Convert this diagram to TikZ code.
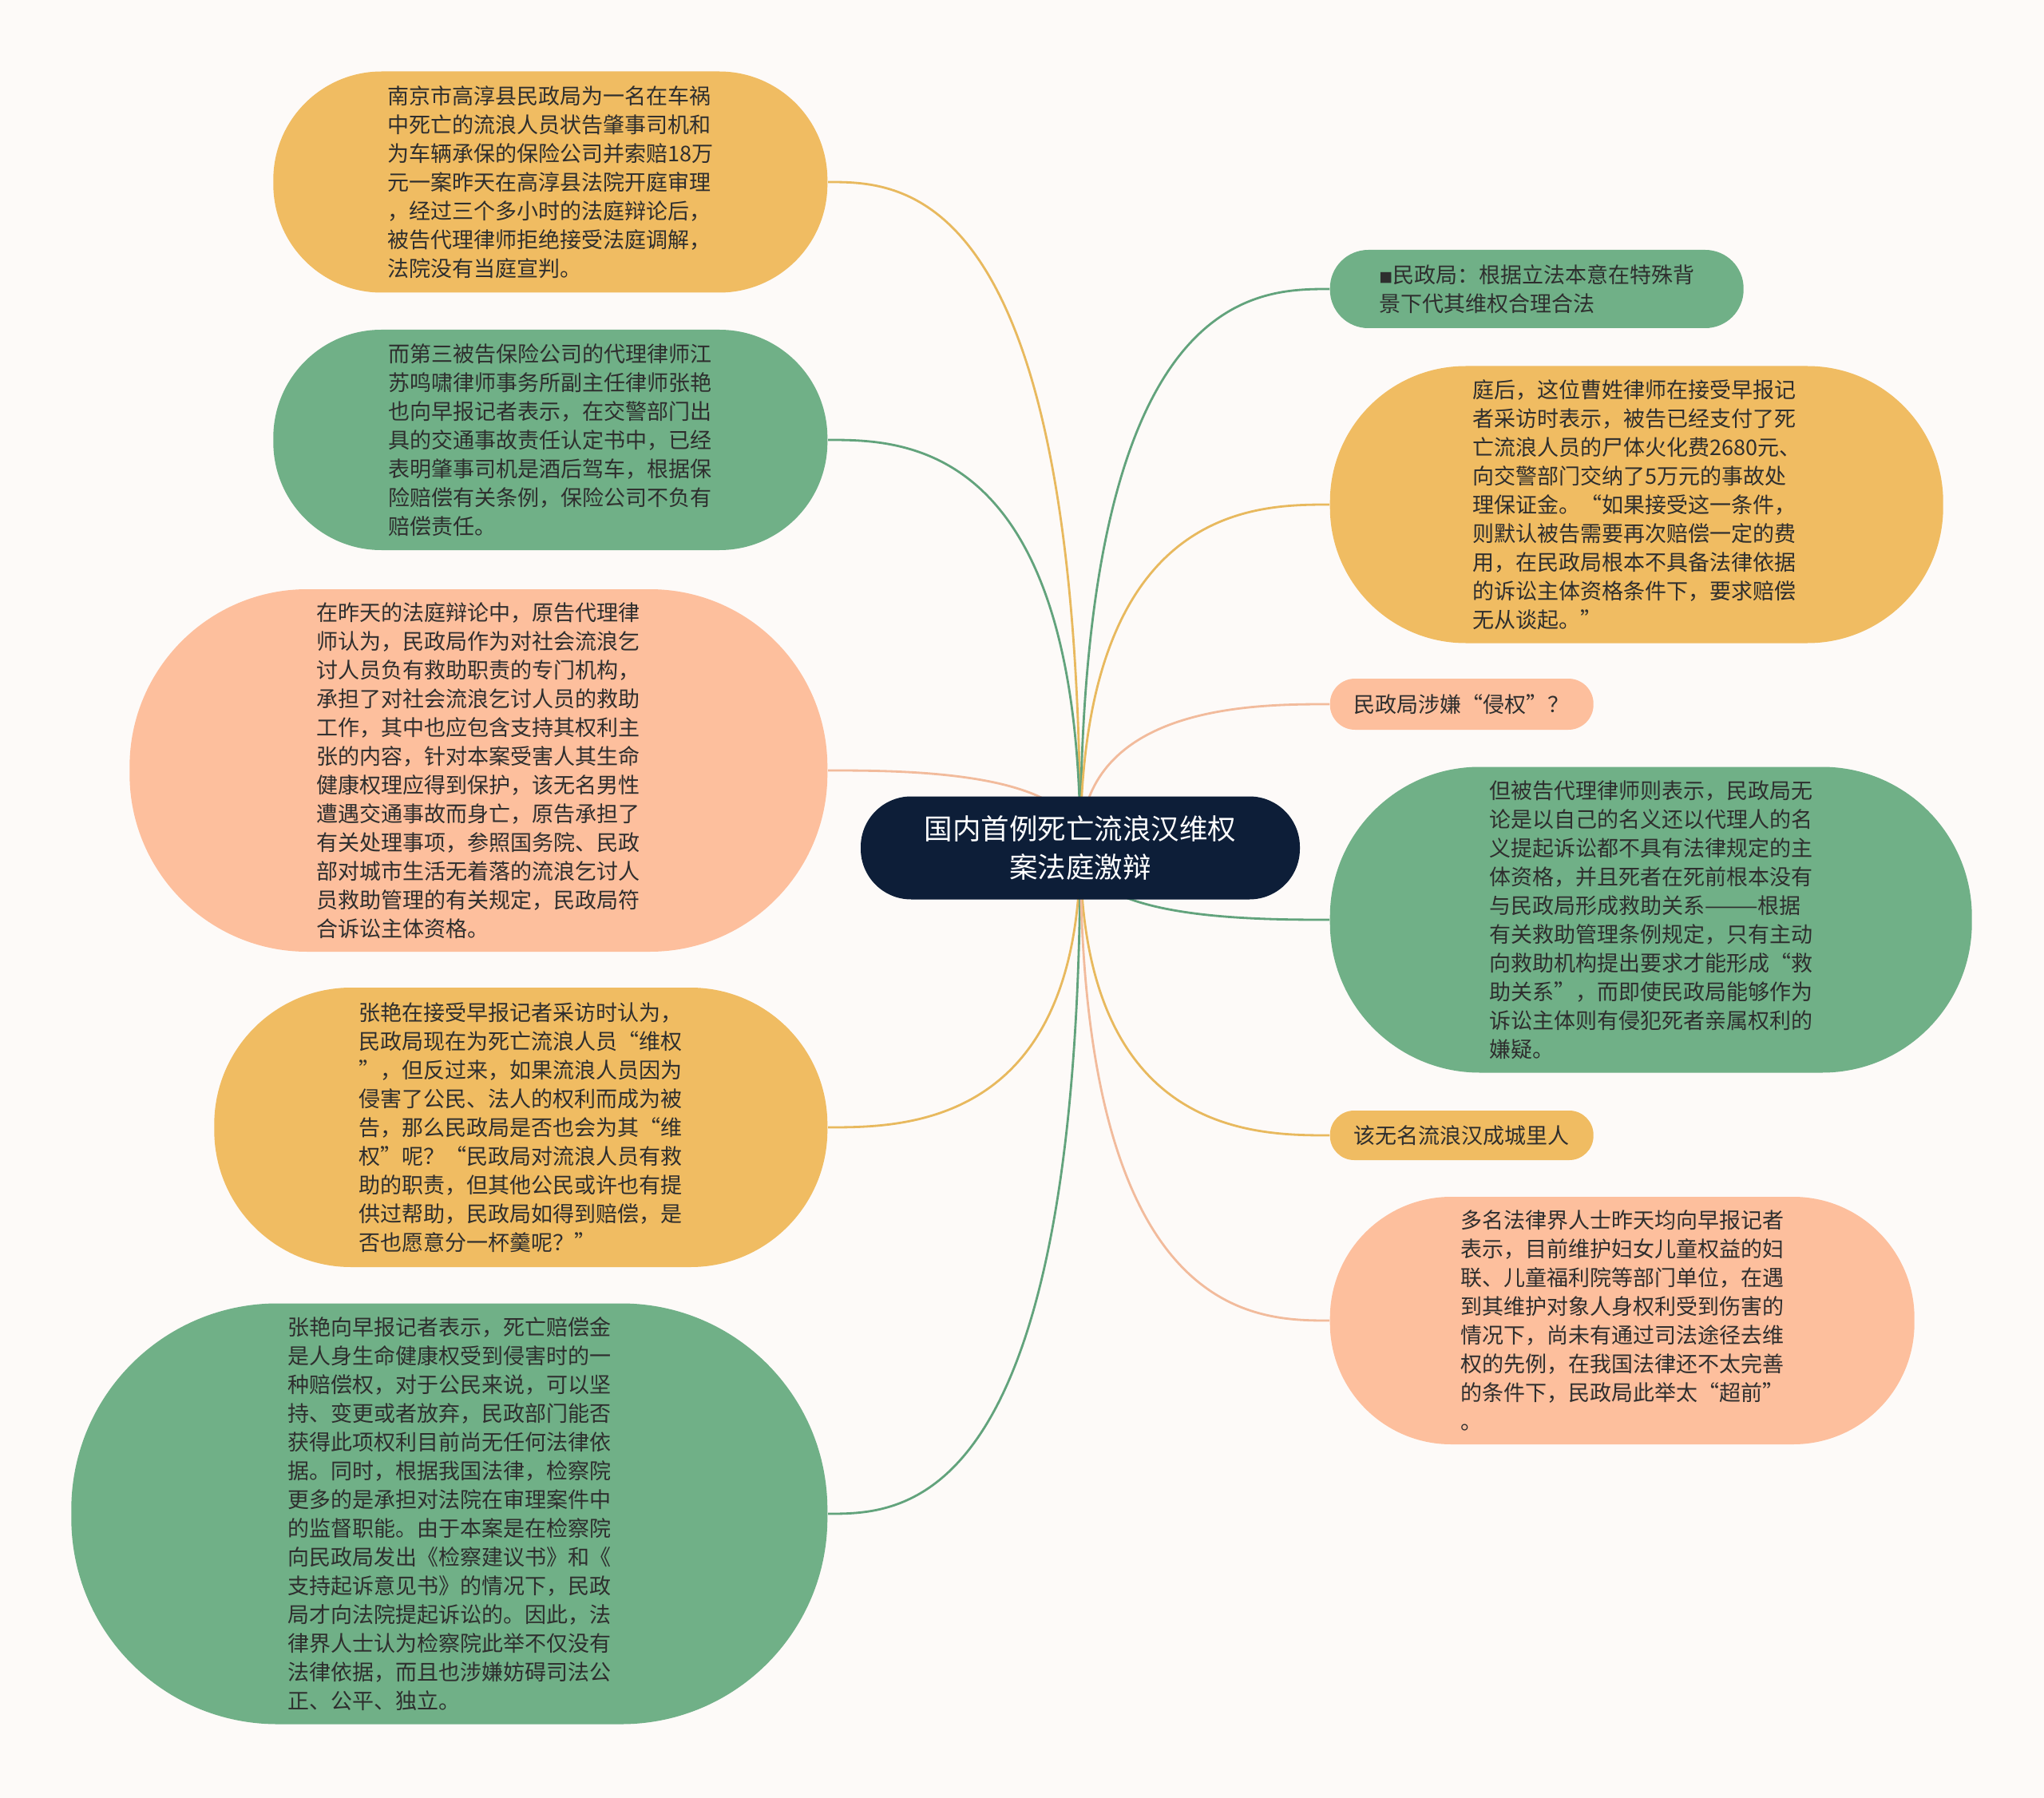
\documentclass[tikz,border=0pt]{standalone}
\usepackage{fontspec}
\newfontfamily\cjkfont{Noto Sans CJK SC}
\usetikzlibrary{calc,backgrounds}
\definecolor{bgcol}{HTML}{FDFAF8}
\definecolor{topicfill}{HTML}{0D1E38}
\definecolor{ylwfill}{HTML}{F0BC62}
\definecolor{grnfill}{HTML}{70B087}
\definecolor{salfill}{HTML}{FDBF9D}
\definecolor{ylwline}{HTML}{E8B95E}
\definecolor{grnline}{HTML}{62A37C}
\definecolor{salline}{HTML}{F2BB9C}
\definecolor{txtcol}{HTML}{2E2E2E}

\begin{document}
\begin{tikzpicture}[
  leaf/.style={inner sep=0pt, align=left, text=txtcol,
    font=\cjkfont\fontsize{7.68pt}{10.24pt}\selectfont},
  sz/.style 2 args={minimum width=#1cm, minimum height=#2cm, rounded corners=#2*0.49cm},
  ylw/.style={leaf, fill=ylwfill},
  grn/.style={leaf, fill=grnfill},
  sal/.style={leaf, fill=salfill},
  topic/.style={inner sep=0pt, align=center, text=white, fill=topicfill,
    font=\cjkfont\fontsize{10.1pt}{13.6pt}\selectfont},
  link/.style={line width=0.8pt, draw=#1}
]
\useasboundingbox (0,0) rectangle (25.6,-22.52);

\node[topic, sz={5.50}{1.29}] (root) at (13.53,-10.62) {国内首例死亡流浪汉维权\\案法庭激辩};

% left side
\node[ylw, sz={6.94}{2.77}, anchor=east] (l1) at (10.37,-2.28) {南京市高淳县民政局为一名在车祸\\中死亡的流浪人员状告肇事司机和\\为车辆承保的保险公司并索赔18万\\元一案昨天在高淳县法院开庭审理\\，经过三个多小时的法庭辩论后，\\被告代理律师拒绝接受法庭调解，\\法院没有当庭宣判。};
\node[grn, sz={6.94}{2.76}, anchor=east] (l2) at (10.37,-5.51) {而第三被告保险公司的代理律师江\\苏鸣啸律师事务所副主任律师张艳\\也向早报记者表示，在交警部门出\\具的交通事故责任认定书中，已经\\表明肇事司机是酒后驾车，根据保\\险赔偿有关条例，保险公司不负有\\赔偿责任。};
\node[sal, sz={8.74}{4.54}, anchor=east] (l3) at (10.37,-9.65) {在昨天的法庭辩论中，原告代理律\\师认为，民政局作为对社会流浪乞\\讨人员负有救助职责的专门机构，\\承担了对社会流浪乞讨人员的救助\\工作，其中也应包含支持其权利主\\张的内容，针对本案受害人其生命\\健康权理应得到保护，该无名男性\\遭遇交通事故而身亡，原告承担了\\有关处理事项，参照国务院、民政\\部对城市生活无着落的流浪乞讨人\\员救助管理的有关规定，民政局符\\合诉讼主体资格。};
\node[ylw, sz={7.68}{3.50}, anchor=east] (l4) at (10.37,-14.12) {张艳在接受早报记者采访时认为，\\民政局现在为死亡流浪人员“维权\\”，但反过来，如果流浪人员因为\\侵害了公民、法人的权利而成为被\\告，那么民政局是否也会为其“维\\权”呢？“民政局对流浪人员有救\\助的职责，但其他公民或许也有提\\供过帮助，民政局如得到赔偿，是\\否也愿意分一杯羹呢？”};
\node[grn, sz={9.47}{5.27}, anchor=east] (l5) at (10.37,-18.96) {张艳向早报记者表示，死亡赔偿金\\是人身生命健康权受到侵害时的一\\种赔偿权，对于公民来说，可以坚\\持、变更或者放弃，民政部门能否\\获得此项权利目前尚无任何法律依\\据。同时，根据我国法律，检察院\\更多的是承担对法院在审理案件中\\的监督职能。由于本案是在检察院\\向民政局发出《检察建议书》和《\\支持起诉意见书》的情况下，民政\\局才向法院提起诉讼的。因此，法\\律界人士认为检察院此举不仅没有\\法律依据，而且也涉嫌妨碍司法公\\正、公平、独立。};

% right side
\node[grn, sz={5.18}{0.98}, anchor=west] (r1) at (16.65,-3.62) {{\fontsize{4.8pt}{4.8pt}\selectfont ■}民政局：根据立法本意在特殊背\\景下代其维权合理合法};
\node[ylw, sz={7.68}{3.47}, anchor=west] (r2) at (16.65,-6.32) {庭后，这位曹姓律师在接受早报记\\者采访时表示，被告已经支付了死\\亡流浪人员的尸体火化费2680元、\\向交警部门交纳了5万元的事故处\\理保证金。“如果接受这一条件，\\则默认被告需要再次赔偿一定的费\\用，在民政局根本不具备法律依据\\的诉讼主体资格条件下，要求赔偿\\无从谈起。”};
\node[sal, sz={3.30}{0.64}, anchor=west] (r3) at (16.65,-8.82) {民政局涉嫌“侵权”？};
\node[grn, sz={8.04}{3.83}, anchor=west] (r4) at (16.65,-11.52) {但被告代理律师则表示，民政局无\\论是以自己的名义还以代理人的名\\义提起诉讼都不具有法律规定的主\\体资格，并且死者在死前根本没有\\与民政局形成救助关系———根据\\有关救助管理条例规定，只有主动\\向救助机构提出要求才能形成“救\\助关系”，而即使民政局能够作为\\诉讼主体则有侵犯死者亲属权利的\\嫌疑。};
\node[ylw, sz={3.30}{0.62}, anchor=west] (r5) at (16.65,-14.22) {该无名流浪汉成城里人};
\node[sal, sz={7.32}{3.10}, anchor=west] (r6) at (16.65,-16.54) {多名法律界人士昨天均向早报记者\\表示，目前维护妇女儿童权益的妇\\联、儿童福利院等部门单位，在遇\\到其维护对象人身权利受到伤害的\\情况下，尚未有通过司法途径去维\\权的先例，在我国法律还不太完善\\的条件下，民政局此举太“超前”\\。};

\begin{pgfonlayer}{background}
\fill[bgcol] (0,0) rectangle (25.6,-22.52);
\foreach \n/\c in {l1/ylwline, l2/grnline, l3/salline, l4/ylwline, l5/grnline}
  \draw[link=\c] (root.center) .. controls (root.center |- \n.east) and ($(\n.east)!.3!(root.center |- \n.east)$) .. (\n.east);
\foreach \n/\c in {r1/grnline, r2/ylwline, r3/salline, r4/grnline, r5/ylwline, r6/salline}
  \draw[link=\c] (root.center) .. controls (root.center |- \n.west) and ($(\n.west)!.3!(root.center |- \n.west)$) .. (\n.west);
\end{pgfonlayer}
\end{tikzpicture}
\end{document}
